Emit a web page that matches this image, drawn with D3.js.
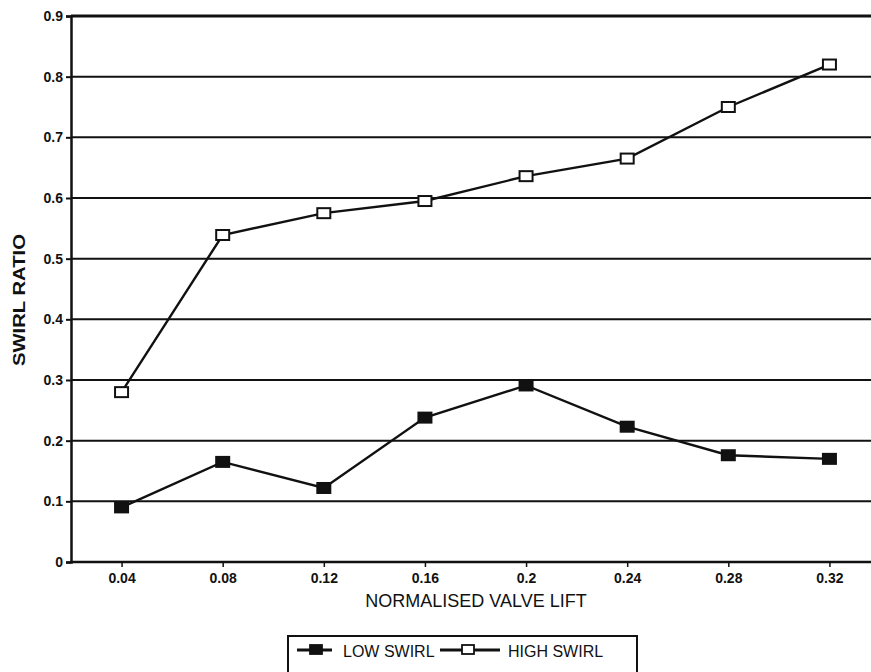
<!DOCTYPE html>
<html lang="en">
<head>
    <meta charset="UTF-8">
    <title>Swirl ratio vs normalised valve lift</title>
    <script src="https://d3js.org/d3.v7.min.js"></script>
    <style>
        body { margin: 0; padding: 0; background: #fff; }
        svg { display: block; font-family: "Liberation Sans", Arial, sans-serif; }
    </style>
</head>
<body>

<svg id="chart" width="871" height="672"></svg>

<script>
    // Data
    const lifts = [0.04, 0.08, 0.12, 0.16, 0.2, 0.24, 0.28, 0.32];
    const lowSwirl = [0.09, 0.165, 0.122, 0.238, 0.291, 0.223, 0.176, 0.17];
    const highSwirl = [0.28, 0.539, 0.575, 0.595, 0.636, 0.665, 0.75, 0.82];
    const xTicks = [0.04, 0.08, 0.12, 0.16, 0.2, 0.24, 0.28, 0.32];
    const yTicks = [0, 0.1, 0.2, 0.3, 0.4, 0.5, 0.6, 0.7, 0.8, 0.9];

    const svg = d3.select("#chart");

    // scales (plot runs off the right edge like the scan)
    const x = d3.scaleLinear().domain([0.02, 0.34]).range([71, 880]);
    const y = d3.scaleLinear().domain([0, 0.9]).range([562, 16]);

    // horizontal gridlines
    svg.append("g")
        .selectAll("line")
        .data(yTicks.filter(d => d > 0))
        .join("line")
        .attr("x1", 71)
        .attr("x2", 871)
        .attr("y1", d => y(d))
        .attr("y2", d => y(d))
        .attr("stroke", "#111")
        .attr("stroke-width", d => d === 0.9 ? 3 : 2);

    // y axis
    const yAxis = svg.append("g")
        .attr("transform", "translate(71,0)")
        .call(d3.axisLeft(y).tickValues(yTicks).tickSize(5)
            .tickFormat(d => d === 0 ? "0" : d3.format(".1f")(d)));
    yAxis.select(".domain").attr("stroke", "#111").attr("stroke-width", 2.5);
    yAxis.selectAll(".tick line").attr("stroke", "#111").attr("stroke-width", 2);
    yAxis.selectAll(".tick text")
        .attr("font-size", 14).attr("font-weight", "bold").attr("fill", "#111").attr("x", -8);

    // x axis
    const xAxis = svg.append("g")
        .attr("transform", "translate(0,562)")
        .call(d3.axisBottom(x).tickValues(xTicks).tickSize(5)
            .tickFormat(d => d3.format("")(+d.toFixed(2))));
    xAxis.select(".domain").attr("d", "M71,0H871").attr("stroke", "#111").attr("stroke-width", 2.5);
    xAxis.selectAll(".tick line").attr("stroke", "#111").attr("stroke-width", 1.5);
    xAxis.selectAll(".tick text")
        .attr("font-size", 14).attr("font-weight", "bold").attr("fill", "#111").attr("y", 11);

    // axis titles
    svg.append("text")
        .attr("x", 476).attr("y", 607)
        .attr("text-anchor", "middle")
        .attr("font-size", 18).attr("fill", "#111")
        .text("NORMALISED VALVE LIFT");

    svg.append("text")
        .attr("transform", "translate(25,300) rotate(-90)")
        .attr("text-anchor", "middle")
        .attr("font-size", 17).attr("font-weight", "bold").attr("fill", "#111")
        .attr("textLength", 132).attr("lengthAdjust", "spacingAndGlyphs")
        .text("SWIRL RATIO");

    // series
    const line = d3.line()
        .x(d => x(d[0]))
        .y(d => y(d[1]));

    const series = [
        { name: "LOW SWIRL", values: lowSwirl, fill: "#111" },
        { name: "HIGH SWIRL", values: highSwirl, fill: "#fff" }
    ];

    series.forEach(s => {
        const pts = lifts.map((l, i) => [l, s.values[i]]);
        svg.append("path")
            .attr("d", line(pts))
            .attr("fill", "none")
            .attr("stroke", "#111")
            .attr("stroke-width", 2.4);
        svg.append("g")
            .selectAll("rect")
            .data(pts)
            .join("rect")
            .attr("x", d => x(d[0]) - 6.5)
            .attr("y", d => y(d[1]) - 5)
            .attr("width", 13)
            .attr("height", 10)
            .attr("fill", s.fill)
            .attr("stroke", "#111")
            .attr("stroke-width", 2);
    });

    // legend
    const legend = svg.append("g");
    legend.append("rect")
        .attr("x", 288).attr("y", 636)
        .attr("width", 349).attr("height", 50)
        .attr("fill", "#fff").attr("stroke", "#111").attr("stroke-width", 2);

    const legendItems = [
        { s: series[0], x0: 297, x1: 332, cx: 316, tx: 343 },
        { s: series[1], x0: 440, x1: 500, cx: 468, tx: 508 }
    ];
    legendItems.forEach(it => {
        legend.append("line")
            .attr("x1", it.x0).attr("x2", it.x1)
            .attr("y1", 650).attr("y2", 650)
            .attr("stroke", "#111").attr("stroke-width", 2.8);
        legend.append("rect")
            .attr("x", it.cx - 6).attr("y", 645)
            .attr("width", 12).attr("height", 9)
            .attr("fill", it.s.fill).attr("stroke", "#111").attr("stroke-width", 1.8);
        legend.append("text")
            .attr("x", it.tx).attr("y", 657)
            .attr("font-size", 16).attr("font-weight", 500).attr("fill", "#111")
            .text(it.s.name);
    });
</script>

</body>
</html>
